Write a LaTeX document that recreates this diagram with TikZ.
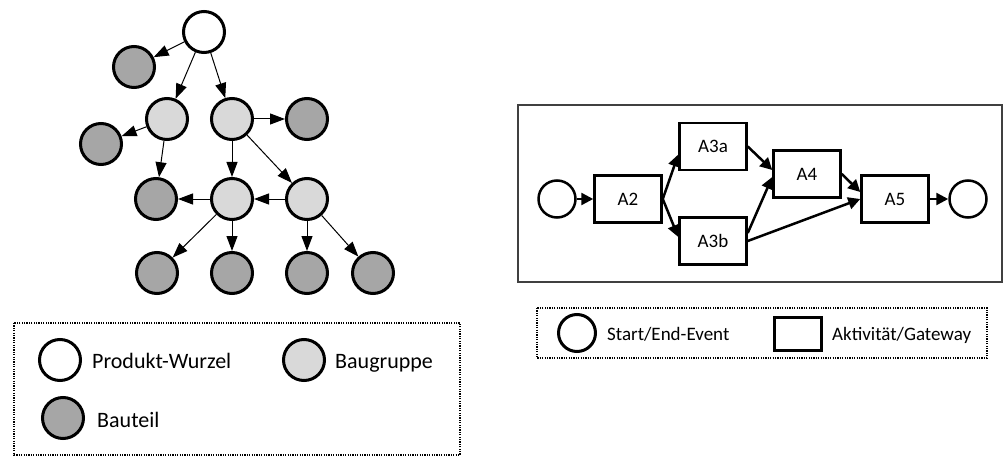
\documentclass[tikz,border=0pt]{standalone}
\usepackage{fontspec}
\setmainfont{Carlito}
\usetikzlibrary{arrows.meta}

\definecolor{bgfill}{HTML}{D9D9D9}
\definecolor{btfill}{HTML}{A6A6A6}
\definecolor{frame}{HTML}{404040}

\tikzset{
	wurzel/.style={circle,draw,line width=3pt,fill=white,minimum size=41pt,inner sep=0pt},
	baugruppe/.style={wurzel,fill=bgfill},
	bauteil/.style={wurzel,fill=btfill},
	treearrow/.style={-{Triangle[length=15pt,width=11pt]},line width=1pt},
	event/.style={circle,draw,line width=2.5pt,minimum size=37pt,inner sep=0pt},
	task/.style={rectangle,draw,line width=2.5pt,minimum width=67pt,minimum height=47pt,
		font=\fontsize{19}{22}\selectfont},
	flow/.style={-{Triangle[length=12pt,width=12pt]},line width=2.5pt},
	legendbox/.style={dash pattern=on 1.2pt off 1.2pt,line width=1.2pt},
}

\begin{document}
\begin{tikzpicture}[x=1pt,y=-1pt]
	\useasboundingbox (0,0) rectangle (1003,457);

	%TREE
	\node[wurzel]    (root) at (204,32)  {};
	\node[bauteil]   (bt1)  at (134,67)  {};		%top left
	\node[baugruppe] (bg1)  at (167,119) {};
	\node[baugruppe] (bg2)  at (232,119) {};
	\node[bauteil]   (bt2)  at (307,119) {};
	\node[bauteil]   (bt3)  at (101,144) {};
	\node[bauteil]   (bt4)  at (156,199) {};
	\node[baugruppe] (bg3)  at (232,199) {};
	\node[baugruppe] (bg4)  at (307,199) {};
	\foreach \x/\n in {157/5,232/6,307/7,373/8}{	%bottom row
		\node[bauteil] (bt\n) at (\x,273) {};
	}

	\draw[treearrow] (root) -- (bt1);
	\draw[treearrow] (root) -- (bg1);
	\draw[treearrow] (root) -- (bg2);
	\draw[treearrow] (bg1) -- (bt3);
	\draw[treearrow] (bg1) -- (bt4);
	\draw[treearrow] (bg2) -- (bt2);
	\draw[treearrow] (bg2) -- (bg3);
	\draw[treearrow] (bg2) -- (bg4);
	\draw[treearrow] (bg4) -- (bg3);
	\draw[treearrow] (bg3) -- (bt4);
	\draw[treearrow] (bg3) -- (bt5);
	\draw[treearrow] (bg3) -- (bt6);
	\draw[treearrow] (bg4) -- (bt7);
	\draw[treearrow] (bg4) -- (bt8);

	%LEGEND, left
	\draw[legendbox] (14,323) rectangle (460,455);
	\begin{scope}[every node/.append style={font=\fontsize{22}{26}\selectfont}]
		\node[wurzel]    (lwurzel) at (60,360)  {};
		\node[anchor=base west,inner sep=0pt] (twurzel) at (92,368) {Produkt-Wurzel};
		\node[baugruppe] (lgruppe) at (304,360) {};
		\node[anchor=base west,inner sep=0pt] (tgruppe) at (335,368) {Baugruppe};
		\node[bauteil]   (lteil)   at (63,418)  {};
		\node[anchor=base west,inner sep=0pt] (tteil) at (97,427) {Bauteil};
	\end{scope}

	%PROCESS
	\draw[frame,line width=1.2pt] (518,105) rectangle (1002,282);
	\node[event] (start) at (557,199)   {};
	\node[task]  (A2)    at (628,199)   {A2};
	\node[task]  (A3a)   at (713,146.5) {A3a};
	\node[task]  (A3b)   at (713,241)   {A3b};
	\node[task]  (A4)    at (807,174)   {A4};
	\node[task]  (A5)    at (895,199)   {A5};
	\node[event] (end)   at (968,199)   {};

	\draw[flow] (start) -- (A2);
	\draw[flow] (A2.east) -- ([yshift=-8pt]A3a.west);
	\draw[flow] (A2.east) -- ([yshift=4pt]A3b.west);
	\draw[flow] (A3a.east) -- ([yshift=4pt]A4.west);
	\draw[flow] ([yshift=8pt]A3b.east) -- ([yshift=-3pt]A4.west);
	\draw[flow] (A3b.east) -- (A5.west);
	\draw[flow] (A4.east) -- ([yshift=7pt]A5.west);
	\draw[flow] (A5) -- (end);

	%LEGEND, right
	\draw[legendbox] (537,308) rectangle (987,358);
	\begin{scope}[every node/.append style={font=\fontsize{19}{22}\selectfont}]
		\node[event,line width=3pt] (levent) at (577,333) {};
		\node[anchor=base west,inner sep=0pt] (tevent) at (607,340) {Start/End-Event};
		\node[rectangle,draw,line width=3pt,minimum width=47pt,minimum height=33pt] (ltask) at (798,334) {};
		\node[anchor=base west,inner sep=0pt] (ttask) at (832,340) {Aktivität/Gateway};
	\end{scope}
\end{tikzpicture}
\end{document}
